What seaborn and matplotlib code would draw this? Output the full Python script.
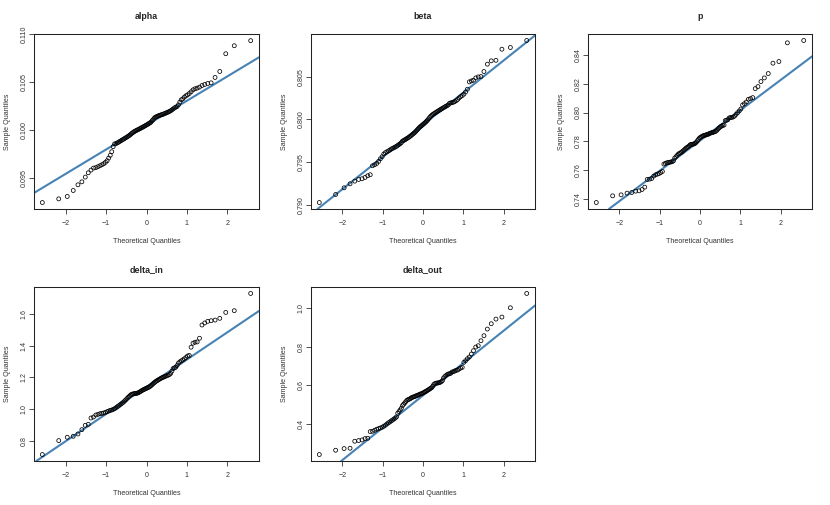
"""Normal Q-Q plots for the fitted parameters, R-style layout."""

from statistics import NormalDist

import matplotlib

matplotlib.use("Agg")
import matplotlib.pyplot as plt
import numpy as np
import seaborn as sns

# sample values (sorted, n = 100 each)
alpha = [
    0.09250, 0.09288, 0.09313, 0.09375, 0.09434, 0.09465, 0.09514, 0.09559, 0.09587, 0.09608,
    0.09612, 0.09622, 0.09632, 0.09642, 0.09653, 0.09667, 0.09684, 0.09712, 0.09740, 0.09778,
    0.09830, 0.09858, 0.09862, 0.09869, 0.09877, 0.09885, 0.09893, 0.09901, 0.09908, 0.09916,
    0.09923, 0.09931, 0.09938, 0.09946, 0.09955, 0.09965, 0.09974, 0.09982, 0.09989, 0.09995,
    0.10001, 0.10006, 0.10011, 0.10017, 0.10023, 0.10029, 0.10034, 0.10040, 0.10046, 0.10052,
    0.10058, 0.10065, 0.10071, 0.10078, 0.10086, 0.10100, 0.10110, 0.10125, 0.10135, 0.10140,
    0.10145, 0.10150, 0.10155, 0.10158, 0.10162, 0.10165, 0.10170, 0.10175, 0.10180, 0.10185,
    0.10190, 0.10196, 0.10203, 0.10212, 0.10222, 0.10232, 0.10240, 0.10247, 0.10264, 0.10292,
    0.10316, 0.10326, 0.10344, 0.10358, 0.10368, 0.10382, 0.10400, 0.10420, 0.10431, 0.10438,
    0.10448, 0.10465, 0.10476, 0.10486, 0.10493, 0.10549, 0.10611, 0.10795, 0.10878, 0.10931,
]
beta = [
    0.79027, 0.79121, 0.79199, 0.79246, 0.79277, 0.79297, 0.79305, 0.79320, 0.79340, 0.79352,
    0.79457, 0.79469, 0.79484, 0.79508, 0.79539, 0.79563, 0.79594, 0.79610, 0.79620, 0.79630,
    0.79640, 0.79652, 0.79660, 0.79668, 0.79676, 0.79684, 0.79695, 0.79705, 0.79715, 0.79727,
    0.79745, 0.79752, 0.79760, 0.79768, 0.79776, 0.79784, 0.79793, 0.79802, 0.79812, 0.79822,
    0.79832, 0.79842, 0.79854, 0.79866, 0.79880, 0.79892, 0.79905, 0.79915, 0.79925, 0.79935,
    0.79945, 0.79955, 0.79966, 0.79978, 0.79990, 0.80005, 0.80020, 0.80034, 0.80046, 0.80056,
    0.80064, 0.80072, 0.80080, 0.80088, 0.80096, 0.80104, 0.80112, 0.80120, 0.80128, 0.80136,
    0.80144, 0.80152, 0.80160, 0.80168, 0.80188, 0.80192, 0.80196, 0.80200, 0.80208, 0.80218,
    0.80232, 0.80250, 0.80265, 0.80278, 0.80295, 0.80320, 0.80352, 0.80438, 0.80449, 0.80457,
    0.80484, 0.80496, 0.80500, 0.80559, 0.80645, 0.80684, 0.80690, 0.80820, 0.80840, 0.80922,
]
p = [
    0.73764, 0.74227, 0.74296, 0.74412, 0.74458, 0.74551, 0.74574, 0.74667, 0.74829, 0.75361,
    0.75384, 0.75431, 0.75593, 0.75685, 0.75731, 0.75778, 0.75847, 0.75917, 0.76426, 0.76472,
    0.76519, 0.76530, 0.76555, 0.76575, 0.76590, 0.76660, 0.76843, 0.76935, 0.77028, 0.77120,
    0.77167, 0.77213, 0.77259, 0.77329, 0.77398, 0.77468, 0.77537, 0.77583, 0.77630, 0.77699,
    0.77769, 0.77792, 0.77800, 0.77815, 0.77838, 0.77884, 0.77954, 0.78046, 0.78139, 0.78231,
    0.78278, 0.78324, 0.78370, 0.78394, 0.78417, 0.78440, 0.78463, 0.78486, 0.78509, 0.78556,
    0.78579, 0.78602, 0.78625, 0.78648, 0.78671, 0.78718, 0.78787, 0.78880, 0.78949, 0.79019,
    0.79065, 0.79111, 0.79134, 0.79440, 0.79460, 0.79500, 0.79620, 0.79644, 0.79667, 0.79690,
    0.79759, 0.79875, 0.79991, 0.80106, 0.80245, 0.80523, 0.80616, 0.80731, 0.80917, 0.80963,
    0.81032, 0.81657, 0.81796, 0.82144, 0.82398, 0.82699, 0.83417, 0.83532, 0.84829, 0.84991,
]
delta_in = [
    0.7167, 0.8042, 0.8250, 0.8313, 0.8458, 0.8729, 0.9000, 0.9063, 0.9458, 0.9521,
    0.9646, 0.9688, 0.9729, 0.9750, 0.9771, 0.9813, 0.9854, 0.9896, 0.9938, 0.9958,
    1.000, 1.004, 1.010, 1.016, 1.022, 1.028, 1.034, 1.040, 1.046, 1.053,
    1.060, 1.068, 1.076, 1.082, 1.089, 1.094, 1.096, 1.098, 1.099, 1.100,
    1.101, 1.103, 1.106, 1.110, 1.114, 1.118, 1.122, 1.125, 1.128, 1.131,
    1.134, 1.137, 1.140, 1.144, 1.149, 1.155, 1.161, 1.167, 1.172, 1.177,
    1.181, 1.185, 1.189, 1.193, 1.197, 1.200, 1.203, 1.206, 1.209, 1.212,
    1.215, 1.219, 1.226, 1.240, 1.256, 1.260, 1.264, 1.275, 1.290, 1.298,
    1.304, 1.310, 1.317, 1.325, 1.335, 1.338, 1.390, 1.415, 1.421, 1.423,
    1.446, 1.529, 1.542, 1.552, 1.556, 1.560, 1.571, 1.608, 1.619, 1.727,
]
delta_out = [
    0.2405, 0.2629, 0.2716, 0.2733, 0.3096, 0.3131, 0.3165, 0.3234, 0.3252, 0.3597,
    0.3614, 0.3666, 0.3718, 0.3753, 0.3787, 0.3822, 0.3874, 0.3926, 0.3995, 0.4047,
    0.4100, 0.4150, 0.4200, 0.4250, 0.4300, 0.4360, 0.4548, 0.4634, 0.4721, 0.4807,
    0.4946, 0.5015, 0.5084, 0.5153, 0.5222, 0.5257, 0.5274, 0.5309, 0.5343, 0.5378,
    0.5395, 0.5412, 0.5430, 0.5464, 0.5481, 0.5499, 0.5533, 0.5550, 0.5568, 0.5585,
    0.5620, 0.5654, 0.5672, 0.5706, 0.5741, 0.5775, 0.5810, 0.5844, 0.5879, 0.5948,
    0.6035, 0.6086, 0.6104, 0.6121, 0.6121, 0.6138, 0.6156, 0.6190, 0.6242, 0.6380,
    0.6449, 0.6501, 0.6553, 0.6588, 0.6600, 0.6630, 0.6691, 0.6709, 0.6743, 0.6778,
    0.6795, 0.6847, 0.6899, 0.6933, 0.7193, 0.7279, 0.7383, 0.7469, 0.7625, 0.7798,
    0.7988, 0.8057, 0.8316, 0.8576, 0.8921, 0.9198, 0.9440, 0.9544, 1.0028, 1.0771,
]

panel_titles = ["alpha", "beta", "p", "delta_in", "delta_out"]
panel_samples = [alpha, beta, p, delta_in, delta_out]

x_ticks = [-2, -1, 0, 1, 2]
x_tick_labels = ["\u22122", "\u22121", "0", "1", "2"]
y_ticks = [
    [0.095, 0.100, 0.105, 0.110],
    [0.790, 0.795, 0.800, 0.805],
    [0.74, 0.76, 0.78, 0.80, 0.82, 0.84],
    [0.8, 1.0, 1.2, 1.4, 1.6],
    [0.4, 0.6, 0.8, 1.0],
]
y_tick_labels = [
    ["0.095", "0.100", "0.105", "0.110"],
    ["0.790", "0.795", "0.800", "0.805"],
    ["0.74", "0.76", "0.78", "0.80", "0.82", "0.84"],
    ["0.8", "1.0", "1.2", "1.4", "1.6"],
    ["0.4", "0.6", "0.8", "1.0"],
]

LINE_COLOR = "#4682B4"
FIG_W, FIG_H = 830, 505
# axes frames in pixels: left, top, width, height
FRAMES = [
    (34, 34, 225, 175),
    (311, 34, 224, 175),
    (588, 34, 224, 175),
    (34, 287, 225, 174),
    (311, 287, 224, 174),
]


def theoretical_quantiles(n: int) -> np.ndarray:
    # R's ppoints() for n > 10, mapped through the standard normal
    probs = (np.arange(1, n + 1) - 0.5) / n
    dist = NormalDist()
    return np.array([dist.inv_cdf(pr) for pr in probs])


def qq_panel(ax, values, title, ticks, tick_labels) -> None:
    sample = np.sort(np.asarray(values))
    theo = theoretical_quantiles(len(sample))
    sns.scatterplot(
        x=theo, y=sample, ax=ax, s=8, marker="o",
        facecolor="none", edgecolor="black", linewidth=0.55, zorder=3,
    )
    # qqline: through the first and third quartiles
    q_s = np.quantile(sample, [0.25, 0.75])
    q_t = np.array([NormalDist().inv_cdf(0.25), NormalDist().inv_cdf(0.75)])
    slope = (q_s[1] - q_s[0]) / (q_t[1] - q_t[0])
    intercept = q_s[0] - slope * q_t[0]
    ax.axline((0, intercept), slope=slope, color=LINE_COLOR, lw=1.5, zorder=2)

    ax.margins(x=0.04, y=0.04)
    ax.set_xticks(x_ticks, x_tick_labels)
    ax.set_yticks(ticks, tick_labels)
    for label in ax.get_yticklabels():
        label.set_rotation(90)
        label.set_va("center")
    ax.tick_params(axis="both", colors="#333333", labelcolor="#333333")
    ax.tick_params(axis="x", length=3.6, width=0.6, pad=4.5, labelsize=5.1)
    ax.tick_params(axis="y", length=3.6, width=0.6, pad=0.8, labelsize=5.1)
    for spine in ax.spines.values():
        spine.set_visible(True)
        spine.set_linewidth(0.75)
        spine.set_color("#222222")
    ax.set_xlabel("Theoretical Quantiles", fontsize=5.1, labelpad=8, color="#333333")
    ax.set_ylabel("Sample Quantiles", fontsize=5.1, labelpad=7, color="#333333")
    ax.set_title(title, fontsize=6.4, fontweight="bold", pad=11)


def main() -> None:
    sns.set_theme(style="ticks")
    plt.rcParams["font.family"] = ["Liberation Sans", "DejaVu Sans"]
    plt.rcParams["axes.unicode_minus"] = True

    fig = plt.figure(figsize=(FIG_W / 100, FIG_H / 100), dpi=100)
    fig.patch.set_facecolor("white")
    for (left, top, width, height), title, values, ticks, labels in zip(
        FRAMES, panel_titles, panel_samples, y_ticks, y_tick_labels
    ):
        ax = fig.add_axes([left / FIG_W, 1 - (top + height) / FIG_H, width / FIG_W, height / FIG_H])
        ax.set_facecolor("white")
        qq_panel(ax, values, title, ticks, labels)

    fig.savefig("out.png", dpi=100, facecolor="white")


if __name__ == "__main__":
    main()
